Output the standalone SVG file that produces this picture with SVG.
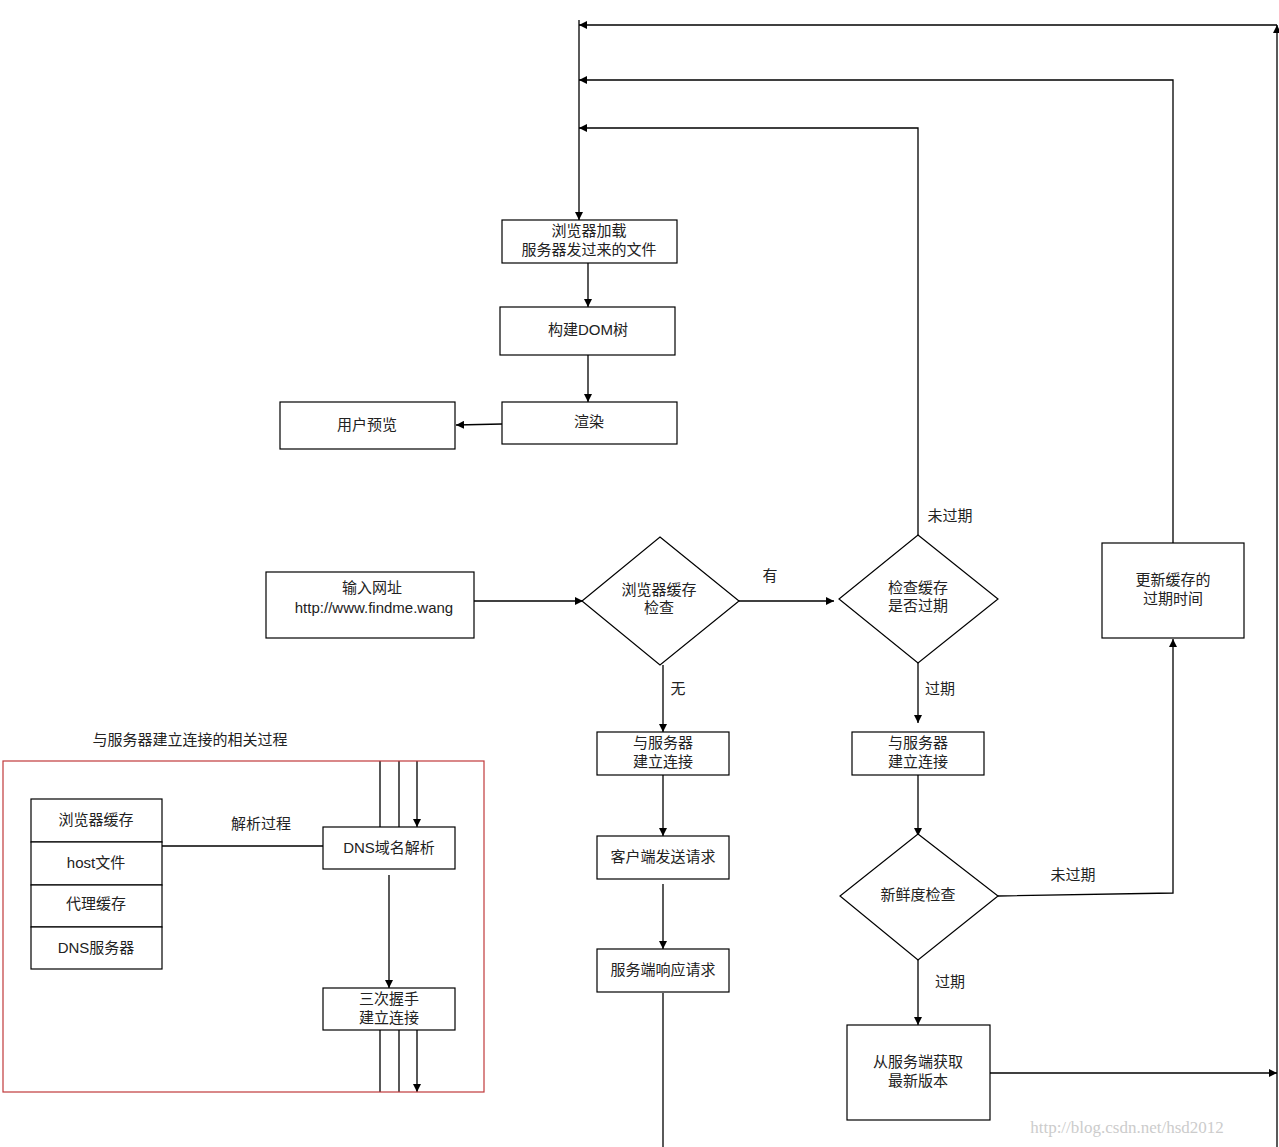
<svg xmlns="http://www.w3.org/2000/svg" width="1279" height="1147" viewBox="0 0 1279 1147">
<style>
.b{fill:#fff;stroke:#000;stroke-width:1.2}
.l{fill:none;stroke:#000;stroke-width:1.3}
text{font-family:"Liberation Sans","Noto Sans CJK SC",sans-serif;font-size:15px;fill:#222;text-anchor:middle}
</style>
<defs><marker id="a" viewBox="0 0 10 10" refX="10" refY="5" markerWidth="8" markerHeight="8" markerUnits="userSpaceOnUse" orient="auto"><path d="M0,0L10,5L0,10z" fill="#000"/></marker></defs>
<rect width="1279" height="1147" fill="#fff"/>
<g id="connectors" class="l">
<path d="M1277,1147V25" marker-end="url(#a)"/>
<path d="M1277,25H579" marker-end="url(#a)"/>
<path d="M1173,543V80H579" marker-end="url(#a)"/>
<path d="M918,535V128H579" marker-end="url(#a)"/>
<path d="M579,20V220" marker-end="url(#a)"/>
<path d="M588,263V307" marker-end="url(#a)"/>
<path d="M588,355V402" marker-end="url(#a)"/>
<path d="M502,424L456,425" marker-end="url(#a)"/>
<path d="M474,601H583" marker-end="url(#a)"/>
<path d="M739,601H834" marker-end="url(#a)"/>
<path d="M663,665V732" marker-end="url(#a)"/>
<path d="M918,663V723" marker-end="url(#a)"/>
<path d="M663,775V836" marker-end="url(#a)"/>
<path d="M663,884V949" marker-end="url(#a)"/>
<path d="M663,993V1147"/>
<path d="M918,775V836" marker-end="url(#a)"/>
<path d="M998,896L1173,893V639" marker-end="url(#a)"/>
<path d="M918,960V1025" marker-end="url(#a)"/>
<path d="M990,1073H1277" marker-end="url(#a)"/>
<path d="M162,846H323"/>
<path d="M380,761V827M399,761V827M417,761V827" marker-end="url(#a)"/>
<path d="M389,875V988" marker-end="url(#a)"/>
<path d="M380,1030V1092M399,1030V1092M417,1030V1092" marker-end="url(#a)"/>
</g>
<rect x="3" y="761" width="481" height="331" fill="none" stroke="#c0393b" stroke-width="1.2"/>
<text x="190" y="745">与服务器建立连接的相关过程</text>
<g id="n1"><rect class="b" x="502" y="220" width="175" height="43"/><text x="589" y="236">浏览器加载</text><text x="589" y="255">服务器发过来的文件</text></g>
<g id="n2"><rect class="b" x="500" y="307" width="175" height="48"/><text x="588" y="335">构建DOM树</text></g>
<g id="n3"><rect class="b" x="502" y="402" width="175" height="42"/><text x="589" y="427">渲染</text></g>
<g id="n4"><rect class="b" x="280" y="402" width="175" height="47"/><text x="367" y="430">用户预览</text></g>
<g id="n5"><rect class="b" x="266" y="572" width="208" height="66"/><text x="372" y="593">输入网址</text><text x="374" y="613">http://www.findme.wang</text></g>
<g id="n6"><path class="b" d="M660,537L739,601L660,665L582,601z"/><text x="659" y="595">浏览器缓存</text><text x="659" y="613">检查</text></g>
<g id="n7"><path class="b" d="M918,535L998,599L918,663L839,599z"/><text x="918" y="593">检查缓存</text><text x="918" y="611">是否过期</text></g>
<g id="n8"><rect class="b" x="1102" y="543" width="142" height="95"/><text x="1173" y="585">更新缓存的</text><text x="1173" y="604">过期时间</text></g>
<g id="n9"><rect class="b" x="597" y="732" width="132" height="43"/><text x="663" y="748">与服务器</text><text x="663" y="767">建立连接</text></g>
<g id="n10"><rect class="b" x="852" y="732" width="132" height="43"/><text x="918" y="748">与服务器</text><text x="918" y="767">建立连接</text></g>
<g id="n11"><rect class="b" x="597" y="836" width="132" height="43"/><text x="663" y="862">客户端发送请求</text></g>
<g id="n12"><rect class="b" x="597" y="949" width="132" height="43"/><text x="663" y="975">服务端响应请求</text></g>
<g id="n13"><path class="b" d="M918,834L998,896L918,960L840,896z"/><text x="918" y="900">新鲜度检查</text></g>
<g id="n14"><rect class="b" x="847" y="1025" width="143" height="95"/><text x="918" y="1067">从服务端获取</text><text x="918" y="1086">最新版本</text></g>
<g id="n15"><rect class="b" x="31" y="799" width="131" height="43"/><text x="96" y="825">浏览器缓存</text>
<rect class="b" x="31" y="842" width="131" height="43"/><text x="96" y="868">host文件</text>
<rect class="b" x="31" y="885" width="131" height="42"/><text x="96" y="909">代理缓存</text>
<rect class="b" x="31" y="927" width="131" height="42"/><text x="96" y="953">DNS服务器</text></g>
<g id="n16"><rect class="b" x="323" y="827" width="132" height="42"/><text x="389" y="853">DNS域名解析</text></g>
<g id="n17"><rect class="b" x="323" y="988" width="132" height="42"/><text x="389" y="1004">三次握手</text><text x="389" y="1023">建立连接</text></g>
<text x="770" y="581">有</text>
<text x="678" y="694">无</text>
<text x="950" y="521">未过期</text>
<text x="940" y="694">过期</text>
<text x="1073" y="880">未过期</text>
<text x="950" y="987">过期</text>
<text x="261" y="829">解析过程</text>
<text x="1127" y="1133" style="font-family:'Liberation Serif',serif;font-size:17px;fill:#ccc">http://blog.csdn.net/hsd2012</text>
</svg>
